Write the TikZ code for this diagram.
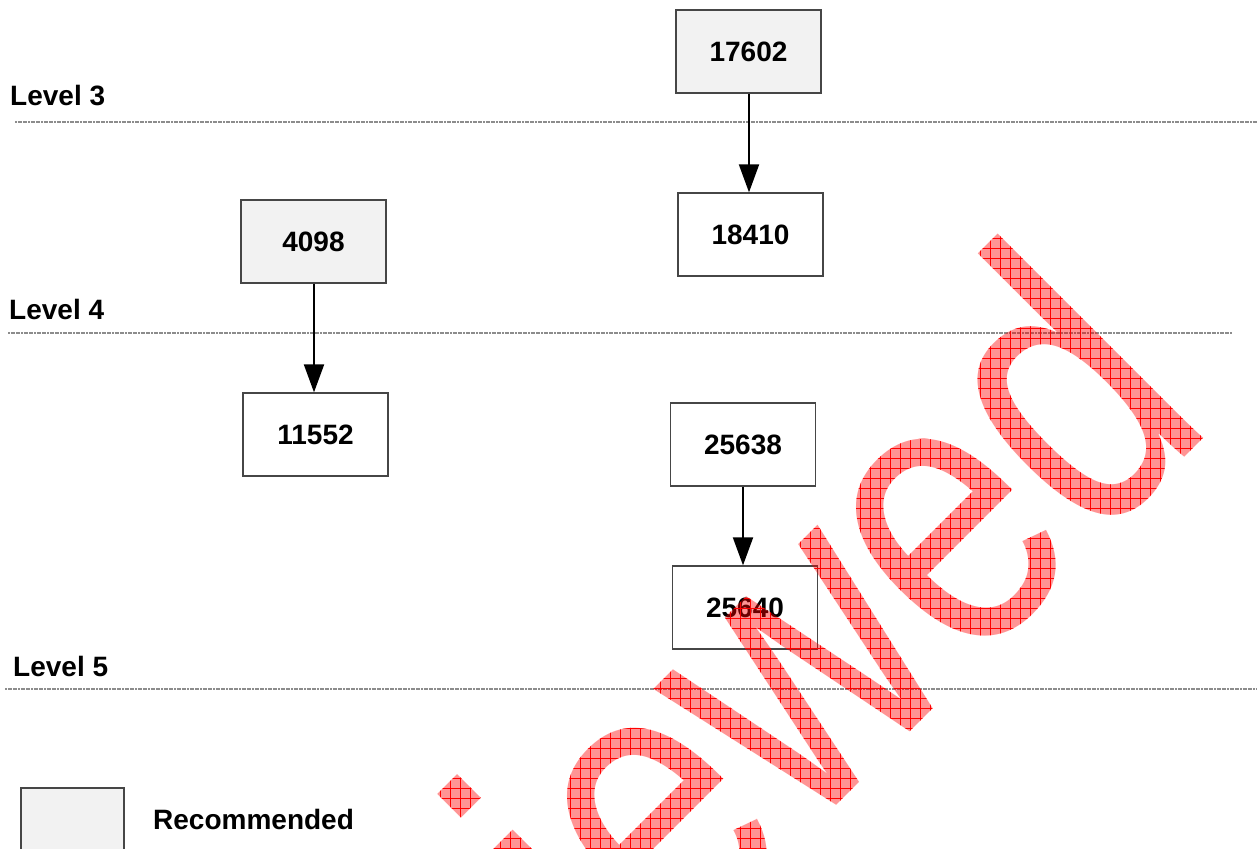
\documentclass[tikz,border=0pt]{standalone}
\usepackage{fontspec}
\usepackage{graphicx}
\setmainfont{Liberation Sans}
\usetikzlibrary{arrows.meta,fadings,patterns.meta}
\definecolor{recgray}{RGB}{242,242,242}
\definecolor{boxline}{RGB}{70,70,70}
\definecolor{levelline}{RGB}{140,140,140}
\tikzset{wmtext/.style={anchor=base west, inner sep=0pt, rotate=45,
  font=\fontsize{400}{400}\selectfont}}
\begin{tikzfadingfrompicture}[name=wmfade,x=1pt,y=-1pt]
\useasboundingbox (0,0) rectangle (1257,848);
\node[wmtext, text=transparent!0] (wmf) at (225,1417) {\scalebox{0.8}[1]{Reviewed}};
\end{tikzfadingfrompicture}
\begin{document}
\begin{tikzpicture}[x=1pt,y=-1pt,
  item/.style={draw=boxline, line width=1.3pt, fill=white, minimum width=145pt, minimum height=83pt, inner sep=0pt,
    font=\fontsize{28}{30}\selectfont\bfseries},
  rec/.style={item, fill=recgray},
  levellabel/.style={anchor=base west, inner sep=0pt, font=\fontsize{28}{30}\selectfont\bfseries},
  levelrule/.style={draw=levelline, line width=1.2pt, dash pattern=on 2pt off 0.6pt},
  link/.style={draw=black, line width=2pt, -{Triangle[length=28pt,width=20pt]}}]
\useasboundingbox (0,0) rectangle (1257,848);
\fill[white] (0,0) rectangle (1257,848);
% level rules
\draw[levelrule] (15,122) -- (1257,122);
\draw[levelrule] (8,333) -- (1232,333);
\draw[levelrule] (5,689) -- (1257,689);
\node[levellabel] (l3) at (10,106) {Level 3};
\node[levellabel] (l4) at (9,319.5) {Level 4};
\node[levellabel] (l5) at (13,676.5) {Level 5};
% boxes
\node[rec] (n17602) at (748.5,51.5) {17602};
\node[item] (n18410) at (750.5,234.5) {18410};
\node[rec] (n4098) at (313.5,241.5) {4098};
\node[item] (n11552) at (315.5,434.5) {11552};
\node[item] (n25638) at (743,444.5) {25638};
\node[item, fill=none] (n25640) at (745,607.5) {25640};
% connectors
\draw[link] (n17602.south -| 749,0) -- (n18410.north -| 749,0);
\draw[link] (n4098.south -| 314,0) -- (n11552.north -| 314,0);
\draw[link] (n25638.south -| 743,0) -- (n25640.north -| 743,0);
% legend
\node[rec, minimum width=103pt, minimum height=80pt] (legbox) at (72.5,828) {};
\node[levellabel] (legtext) at (153,829.5) {Recommended};
% watermark
\node[wmtext, text=red, text opacity=0.42] (wm) at (225,1417) {\scalebox{0.8}[1]{Reviewed}};
\path[pattern={Hatch[distance=10pt, angle=0, line width=0.9pt]}, pattern color=red,
  path fading=wmfade, fit fading=false, fading transform={shift={(628.5,424)}}] (0,0) rectangle (1257,848);
\end{tikzpicture}
\end{document}
